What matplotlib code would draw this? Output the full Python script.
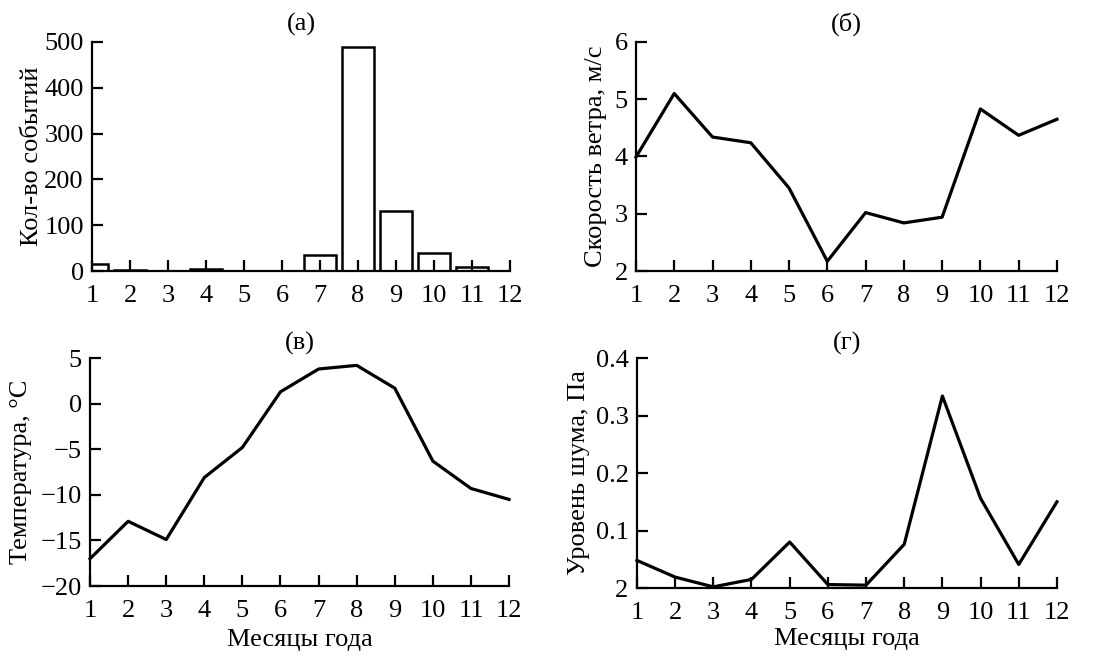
import matplotlib
matplotlib.use('Agg')
import matplotlib.pyplot as plt

plt.rcParams['font.family'] = ['Liberation Serif', 'DejaVu Serif']
plt.rcParams['font.size'] = 19
plt.rcParams['axes.unicode_minus'] = True

# data
months = list(range(1, 13))
events = [15, 3, 0, 5, 0, 1, 35, 488, 130, 40, 9, 1]
wind = [3.99, 5.10, 4.34, 4.24, 3.45, 2.17, 3.02, 2.84, 2.94, 4.83, 4.37, 4.65]
temperature = [-17.0, -12.9, -14.9, -8.1, -4.8, 1.3, 3.8, 4.2, 1.7, -6.3, -9.3, -10.5]
noise = [0.048, 0.019, 0.002, 0.015, 0.080, 0.006, 0.005, 0.076, 0.334, 0.156,
         0.041, 0.150]

noise_ticks = [0, 0.1, 0.2, 0.3, 0.4]
noise_ticklabels = ['2', '0.1', '0.2', '0.3', '0.4']  # as printed in the original


def style_axis(ax):
    for side in ('top', 'right'):
        ax.spines[side].set_visible(False)
    for side in ('left', 'bottom'):
        ax.spines[side].set_linewidth(1.6)
    ax.tick_params(direction='in', length=8, width=1.6)
    ax.tick_params(axis='x', pad=10)
    ax.tick_params(axis='y', pad=6)
    ax.set_xlim(1, 12)
    ax.set_xticks(months)


fig = plt.figure(figsize=(10.98, 6.57), dpi=100)

ax_a = fig.add_axes([0.0838, 0.5875, 0.3807, 0.3486])
ax_b = fig.add_axes([0.5792, 0.5875, 0.3834, 0.3486])
ax_c = fig.add_axes([0.0820, 0.1080, 0.3816, 0.3470])
ax_d = fig.add_axes([0.5801, 0.1050, 0.3825, 0.3500])

# (a) number of events
ax_a.bar(months, events, width=0.82, color='white', edgecolor='black',
         linewidth=1.8)
style_axis(ax_a)
ax_a.set_ylim(0, 500)
ax_a.set_yticks([0, 100, 200, 300, 400, 500])
ax_a.set_ylabel('Кол-во событий')
ax_a.yaxis.set_label_coords(-0.117, 0.5)
ax_a.set_title('(а)', fontsize=19, pad=8)

# (б) wind speed
ax_b.plot(months, wind, color='black', linewidth=2.3, clip_on=False)
style_axis(ax_b)
ax_b.set_ylim(2, 6)
ax_b.set_yticks([2, 3, 4, 5, 6])
ax_b.set_ylabel('Скорость ветра, м/с')
ax_b.yaxis.set_label_coords(-0.069, 0.5)
ax_b.set_title('(б)', fontsize=19, pad=8)

# (в) temperature
ax_c.plot(months, temperature, color='black', linewidth=2.3, clip_on=False)
style_axis(ax_c)
ax_c.set_ylim(-20, 5)
ax_c.set_yticks([-20, -15, -10, -5, 0, 5])
ax_c.set_ylabel('Температура, °C')
ax_c.yaxis.set_label_coords(-0.138, 0.5)
ax_c.set_xlabel('Месяцы года', labelpad=5)
ax_c.set_title('(в)', fontsize=19, pad=6)

# (г) noise level
ax_d.plot(months, noise, color='black', linewidth=2.3, clip_on=False)
style_axis(ax_d)
ax_d.set_ylim(0, 0.4)
ax_d.set_yticks(noise_ticks)
ax_d.set_yticklabels(noise_ticklabels)
ax_d.set_ylabel('Уровень шума, Па')
ax_d.yaxis.set_label_coords(-0.112, 0.5)
ax_d.set_xlabel('Месяцы года', labelpad=3)
ax_d.set_title('(г)', fontsize=19, pad=6)

fig.savefig('out.png', dpi=100)
